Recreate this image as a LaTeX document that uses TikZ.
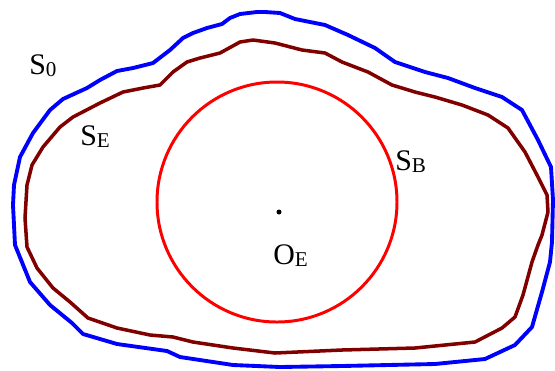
\documentclass[tikz,border=0pt]{standalone}
\usepackage{fontspec}
\setmainfont{Liberation Serif}
\newcommand{\etiq}[2]{\fontsize{17}{20}\selectfont #1\raisebox{-0.1em}{\fontsize{12}{14}\selectfont #2}}

\begin{document}
\begin{tikzpicture}[x=0.02cm,y=-0.02cm,line join=round]
\useasboundingbox (0,0) rectangle (555,370);
%surface S0
\draw[blue, line width=2.2pt] (265,12) -- (280,13) -- (295,19) -- (325,25) -- (348,35) -- (375,48) -- (395,62) -- (425,72) -- (448,78) -- (475,88) -- (502,97) -- (522,110) -- (538,140) -- (551,167) -- (553,200) -- (552,242) -- (550,262) -- (542,292) -- (532,327) -- (515,345) -- (485,359) -- (435,364) -- (342,366) -- (280,367) -- (233,365) -- (180,357) -- (167,351) -- (117,344) -- (83,334) -- (72,323) -- (50,305) -- (30,282) -- (15,245) -- (13,205) -- (14,185) -- (20,157) -- (33,133) -- (50,110) -- (63,99) -- (87,88) -- (100,80) -- (117,71) -- (133,68) -- (153,63) -- (170,50) -- (183,38) -- (193,33) -- (207,28) -- (222,24) -- (230,18) -- (240,14) -- (257,12) -- cycle;
%surface SE
\draw[red!50!black, line width=2pt] (253,40) -- (275,43) -- (302,50) -- (325,53) -- (342,62) -- (368,72) -- (392,85) -- (415,92) -- (435,97) -- (462,105) -- (488,115) -- (508,128) -- (525,152) -- (538,177) -- (547,195) -- (548,212) -- (542,235) -- (538,245) -- (532,262) -- (523,295) -- (515,317) -- (502,328) -- (475,342) -- (415,348) -- (342,350) -- (275,353) -- (233,348) -- (193,342) -- (173,337) -- (150,335) -- (117,328) -- (88,318) -- (70,302) -- (53,288) -- (37,268) -- (27,247) -- (25,218) -- (27,185) -- (32,165) -- (43,147) -- (60,127) -- (73,117) -- (100,103) -- (123,92) -- (143,88) -- (160,85) -- (173,72) -- (187,62) -- (200,58) -- (220,53) -- (240,42) -- cycle;
%boule SB
\draw[red, line width=1.7pt] (277,202) circle[radius=120];
\fill (279,212) circle[radius=2.5];

\node[anchor=base west, inner sep=0] (s0) at (29,74) {\etiq{S}{0}};
\node[anchor=base west, inner sep=0] (se) at (80,145) {\etiq{S}{E}};
\node[anchor=base west, inner sep=0] (sb) at (395,170) {\etiq{S}{B}};
\node[anchor=base west, inner sep=0] (oe) at (273,264) {\etiq{O}{E}};
\end{tikzpicture}
\end{document}
